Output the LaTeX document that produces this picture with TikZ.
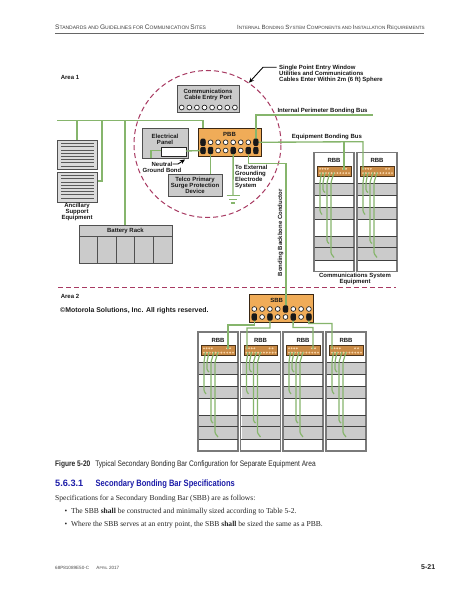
\documentclass[tikz,border=0pt]{standalone}
\usepackage{fontspec}
\setmainfont{Liberation Sans}
\newfontfamily\bodyserif{Liberation Serif}
\newfontfamily\narrowsans[FakeStretch=0.82]{Liberation Sans}
\definecolor{busgreen}{HTML}{86B56C}
\definecolor{barorange}{HTML}{F0AC58}
\definecolor{barbrown}{HTML}{C98A45}
\definecolor{boxgray}{HTML}{CBCBCB}
\definecolor{edgegray}{HTML}{505050}
\definecolor{rackedge}{HTML}{7A7A7A}
\definecolor{zonered}{HTML}{A83A62}
\definecolor{headblue}{HTML}{1C1CA8}
\usetikzlibrary{arrows.meta,calc}
\tikzset{
  bus/.style={draw=busgreen,line width=1.35pt,line join=miter},
  wirecable/.style={draw=busgreen,line width=1.2pt,line join=round},
  lab/.style={font=\bfseries\fontsize{6}{6.05}\selectfont,text=black!90,inner sep=0pt,align=center},
  labl/.style={lab,align=left,anchor=west},
  panel/.style={draw=edgegray,line width=1pt,fill=boxgray,inner sep=0pt,outer sep=0pt},
  barbox/.style={draw=black!70!brown,line width=1pt,fill=barorange,inner sep=0pt,outer sep=0pt},
  zone/.style={draw=zonered,line width=1pt,dash pattern=on 5pt off 3pt},
  pointer/.style={draw=black,line width=0.9pt,-{Stealth[length=5pt,width=4.5pt]}},
  openhole/.style={circle,draw=black!85,line width=0.7pt,fill=white,minimum size=4.8pt,inner sep=0pt},
  lug/.style={rounded corners=1.2pt,fill=black!90,draw=none}
}
% box given by corners
\newcommand\boxat[7]{\node[#6,minimum width={(#4-#2)*1pt},minimum height={(#5-#3)*1pt}] (#1) at ({(#2+#4)/2},{(#3+#5)/2}) {#7};}
% row of 8 hole positions: name, y, x start, x step
\newcommand\holecoords[4]{\foreach \i in {1,...,8}{\coordinate (#1-\i) at ({#3+(\i-1)*#4},#2);}}
\newcommand\holedraw[2]{\foreach \i in {1,...,8}{\node[openhole] at (#1-\i) {};}\foreach \i in {#2}{\fill[lug] ($(#1-\i)+(-2.6,-3.6)$) rectangle ($(#1-\i)+(2.6,3.6)$);}}
% rack: name, x, y, connection offset
\newcommand\rackfig[4]{%
\begin{scope}[shift={(#2,#3)}]
 \node[draw=rackedge,line width=1.1pt,fill=white,minimum width=40pt,minimum height=119pt,inner sep=0pt,outer sep=0pt] (#1-frame) at (20,59.5) {};
 \foreach \a/\b in {30.5/42.5,54.5/66.5,83.5/94.5,94.5/107.5}{
   \fill[boxgray] (1,\a) rectangle (39,\b);
   \draw[black!75,line width=0.9pt] (0.5,\a) -- (39.5,\a) (0.5,\b) -- (39.5,\b);}
 \node[lab] (#1-label) at (20,8) {RBB};
 \node[draw=black!60!brown,line width=0.8pt,fill=barbrown,minimum width=33.5pt,minimum height=10pt,inner sep=0pt,outer sep=0pt] (#1-bar) at (20.25,18.5) {};
 \coordinate (#1-conn) at (#4,17);
 \foreach \hx in {6,8.6,11.2,13.8,29,32}{\fill[barorange!55!white] (\hx,16.3) circle (1.05pt);}
 \foreach \hx in {6,8.9,11.8,14.7,17.6,20.5,23.4,26.3,29.2,32.1,35}{\fill[barorange!55!white] (\hx,20.6) circle (1.05pt);}
 \draw[wirecable,rounded corners=1pt] (7.5,20) -- (6,30) -- (6,59) -- (8,62);
 \draw[wirecable,rounded corners=1pt] (11,20) -- (9,30) -- (9,38) -- (11,40);
 \draw[wirecable,rounded corners=1pt] (16,20) -- (13,30) -- (13,89) -- (15,91);
 \draw[wirecable,rounded corners=1pt] (20,20) -- (17,30) -- (17,101) -- (20,105);
\end{scope}}
\newcommand\smc[2]{{\fontsize{6.6}{7}\selectfont #1}{\fontsize{5.0}{7}\selectfont #2}}
\newcommand\smr[2]{{\fontsize{6.1}{7}\selectfont #1}{\fontsize{4.6}{7}\selectfont #2}}
\begin{document}
\begin{tikzpicture}[x=1pt,y=-1pt]
\useasboundingbox (0,0) rectangle (463,599);
\fill[white] (0,0) rectangle (463,599);
% header
\node[inner sep=0pt,anchor=base west,text=black!75,font=\fontsize{5}{7}\selectfont] (headL) at (55,30) {\smc{S}{TANDARDS AND} \smc{G}{UIDELINES FOR} \smc{C}{OMMUNICATION} \smc{S}{ITES}};
\node[inner sep=0pt,anchor=base west,text=black!75,font=\fontsize{4.6}{7}\selectfont] (headR) at (237,30) {\smr{I}{NTERNAL} \smr{B}{ONDING} \smr{S}{YSTEM} \smr{C}{OMPONENTS AND} \smr{I}{NSTALLATION} \smr{R}{EQUIREMENTS}};
\draw[black!60,line width=1pt] (55,33.8) -- (424,33.8);
% zones
\node[lab] (area1) at (70,77) {Area 1};
\node[lab] (area2) at (70,296) {Area 2};
\draw[zone] (207.5,144) circle (73.5pt);
\draw[zone] (58,287.3) -- (396,287.3);
% coordinates of holes
\holecoords{pa}{142.3}{203}{7.55}
\holecoords{pb}{150.5}{203}{7.55}
\holecoords{sa}{309}{254.3}{7.8}
\holecoords{sb}{317}{254.3}{7.8}
% boxes
\boxat{ancA}{57.5}{140}{97.5}{169}{panel,fill=boxgray!70!white}{}
\boxat{ancB}{57.5}{172}{97.5}{202}{panel,fill=boxgray!70!white}{}
\foreach \k in {0,...,7}{
 \draw[black!65,line width=0.8pt] (61,{143.5+\k*3.2}) -- (94,{143.5+\k*3.2});
 \draw[black!65,line width=0.8pt] (61,{175.5+\k*3.2}) -- (94,{175.5+\k*3.2});}
\boxat{cable}{177}{86}{239}{113}{panel}{}
\node[lab] (cableT) at (208,95) {Communications\\Cable Entry Port};
\foreach \i in {0,...,7}{\node[openhole] (cableh\i) at ({181.7+\i*7.6},107.5) {};}
\boxat{elec}{142}{128}{188}{158}{panel}{}
\node[lab] (elecT) at (165,139) {Electrical\\Panel};
\boxat{elecw}{161}{147}{186}{156}{draw=black!85,line width=1pt,fill=white,inner sep=0pt,outer sep=0pt}{}
\boxat{telco}{168}{174}{222}{196}{panel,align=center,lab}{Telco Primary\\Surge Protection\\Device}
\boxat{pbb}{198}{128}{261}{156}{barbox}{}
\node[lab] (pbbT) at (229.5,134) {PBB};
\boxat{sbb}{249}{294}{313}{322}{barbox}{}
\node[lab] (sbbT) at (276.7,300) {SBB};
\boxat{batt}{79}{225}{172}{263}{panel}{}
\draw[edgegray,line width=1pt] (79,236) -- (172,236);
\foreach \x in {97.6,116.2,134.8,153.4}{\draw[edgegray,line width=1pt] (\x,236) -- (\x,263);}
\node[lab] (battT) at (125.5,230.5) {Battery Rack};
% racks
\rackfig{ru1}{314}{152.5}{30}
\rackfig{ru2}{357}{152.5}{6}
\rackfig{rl1}{198}{332}{30}
\rackfig{rl2}{240.5}{332}{6.5}
\rackfig{rl3}{283}{332}{30}
\rackfig{rl4}{326}{332}{6}
% buses
\coordinate (busW) at (57,120.7);
\coordinate (busE) at (203,120.7);
\draw[bus] (busW) -- (busE) -- (busE |- pbb.north);
\coordinate (d1) at (77,120.7);
\coordinate (d2) at (102,120.7);
\coordinate (d3) at (125,120.7);
\draw[bus] (d1) -- (d1 |- ancA.north);
\draw[bus] (d2) -- (102,181) -- (ancB.east |- 0,181);
\draw[bus] (d3) -- (d3 |- batt.north);
\coordinate (ipbE) at (373,115);
\draw[bus] (pa-8) -- (pa-8 |- ipbE) -- (ipbE);
\coordinate (ebbT) at (363,141.7);
\draw[bus] (pa-8) -- (ebbT) -- (ebbT |- ru2-conn);
\draw[bus] (ru1-conn |- ebbT) -- (ru1-conn);
\draw[bus] (elecw.west |- 0,150.5) -- (151,150.5) -- (151,158);
\draw[bus] (elecw.east |- 0,151) -- (pb-1);
\draw[bus] (pb-2) -- (pb-2 |- telco.north);
\coordinate (gnd) at (233,195.5);
\draw[bus] (pb-5) -- (gnd);
\draw[bus] (226.5,195.5) -- (239.5,195.5) (229,199.3) -- (237,199.3) (231,203) -- (235,203);
\coordinate (bbcT) at (286,163.5);
\draw[bus] (pb-7) -- (pb-7 |- bbcT) -- (bbcT) -- (sa-5 -| bbcT);
\draw[bus] (sb-1) -- (254.3,325) -- (rl1-conn |- 0,325) -- (rl1-conn);
\draw[bus] (sb-3) -- (270,328) -- (rl2-conn |- 0,328) -- (rl2-conn);
\draw[bus] (sb-6) -- (293,327.5) -- (rl3-conn |- 0,327.5) -- (rl3-conn);
\draw[bus] (sb-8) -- (308.9,323.5) -- (rl4-conn |- 0,323.5) -- (rl4-conn);
% holes
\holedraw{pa}{1,8}
\holedraw{pb}{1,2,5,7,8}
\holedraw{sa}{5}
\holedraw{sb}{1,3,6,8}
% labels
\node[labl] (spe) at (279,73.5) {Single Point Entry Window\\Utilities and Communications\\Cables Enter Within 2m (6 ft) Sphere};
\coordinate (speA) at (276.7,67.3);
\coordinate (speB) at (263,67.3);
\coordinate (speC) at (249,82.7);
\draw[pointer] (speA) -- (speB) -- (speC);
\node[labl] (ipb) at (277.3,110.7) {Internal Perimeter Bonding Bus};
\node[labl] (ebb) at (291.7,137) {Equipment Bonding Bus};
\node[lab] (ngb) at (162,167.2) {Neutral\\Ground Bond};
\coordinate (ngA) at (172.5,164);
\coordinate (ngB) at (178,164);
\coordinate (ngC) at (185,159.5);
\draw[pointer] (ngA) -- (ngB) -- (ngC);
\node[labl] (ext) at (235,177) {To External\\Grounding\\Electrode\\System};
\node[lab] (anc) at (77,212) {Ancillary\\Support\\Equipment};
\node[lab,rotate=90] (bbc) at (280.7,232.7) {Bonding Backbone Conductor};
\node[lab] (csq) at (355,279) {Communications System\\Equipment};
\node[inner sep=0pt,anchor=west,font=\bfseries\fontsize{6.9}{8}\selectfont,text=black!90] (copy) at (60,310.5) {©Motorola Solutions, Inc. All rights reserved.};
% text below
\node[inner sep=0pt,anchor=base west,font=\narrowsans\fontsize{8.05}{9}\selectfont,text=black!85] (cap) at (55,466) {{\bfseries Figure 5-20}\hspace{3pt} Typical Secondary Bonding Bar Configuration for Separate Equipment Area};
\node[inner sep=0pt,anchor=base west,font=\bfseries\fontsize{9.2}{10}\selectfont,text=headblue] (secN) at (55,486.5) {5.6.3.1};
\node[inner sep=0pt,anchor=base west,font=\narrowsans\bfseries\fontsize{9.2}{10}\selectfont,text=headblue] (secT) at (95.5,486.5) {Secondary Bonding Bar Specifications};
\node[inner sep=0pt,anchor=base west,font=\bodyserif\fontsize{7.55}{9}\selectfont,text=black!85] (spec) at (55,500.5) {Specifications for a Secondary Bonding Bar (SBB) are as follows:};
\node[inner sep=0pt,anchor=base west,font=\bodyserif\fontsize{7.55}{9}\selectfont,text=black!85] (bu1) at (64.5,513.5) {•};
\node[inner sep=0pt,anchor=base west,font=\bodyserif\fontsize{7.55}{9}\selectfont,text=black!85] (b1) at (70.8,513.5) {The SBB {\bfseries shall} be constructed and minimally sized according to Table 5-2.};
\node[inner sep=0pt,anchor=base west,font=\bodyserif\fontsize{7.55}{9}\selectfont,text=black!85] (bu2) at (64.5,526.5) {•};
\node[inner sep=0pt,anchor=base west,font=\bodyserif\fontsize{7.55}{9}\selectfont,text=black!85] (b2) at (70.8,526.5) {Where the SBB serves at an entry point, the SBB {\bfseries shall} be sized the same as a PBB.};
\node[inner sep=0pt,anchor=base west,font=\fontsize{4.6}{6}\selectfont,text=black!70] (foot) at (55,569) {68P81089E50-C\hspace{6pt} {\fontsize{4.6}{6}\selectfont A}{\fontsize{3.7}{6}\selectfont PRIL} 2017};
\node[inner sep=0pt,anchor=base west,font=\bfseries\fontsize{7}{8}\selectfont,text=black!85] (pg) at (421,569) {5-21};
\end{tikzpicture}
\end{document}
